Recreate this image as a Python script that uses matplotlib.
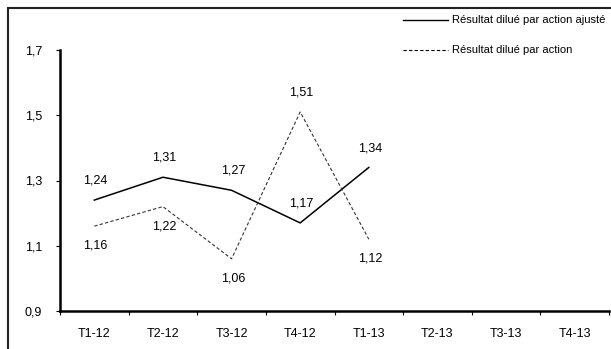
import matplotlib
matplotlib.use("Agg")
import matplotlib.pyplot as plt
from matplotlib.lines import Line2D
from matplotlib.patches import Rectangle
import numpy as np

plt.rcParams['font.family'] = ['Liberation Sans', 'DejaVu Sans']

quarters = ["T1-12", "T2-12", "T3-12", "T4-12", "T1-13", "T2-13", "T3-13", "T4-13"]
adjusted = [1.24, 1.31, 1.27, 1.17, 1.34]
diluted = [1.16, 1.22, 1.06, 1.51, 1.12]
adjusted_label_pos = ["above", "above", "above", "above", "above"]
diluted_label_pos = ["below", "below", "below", "above", "below"]
y_ticks = [0.9, 1.1, 1.3, 1.5, 1.7]
series_names = ["Résultat dilué par action ajusté", "Résultat dilué par action"]

W, H = 611, 349
fig = plt.figure(figsize=(W / 100, H / 100), dpi=100)

# outer chart frame
fig.patches.append(Rectangle((8 / W, 1 - 400 / H), 700 / W, (400 - 8) / H,
                             transform=fig.transFigure, fill=False,
                             edgecolor="#222222", linewidth=1.5))

ax = fig.add_axes([60 / W, 1 - 311 / H, (609 - 60) / W, (311 - 50) / H])
ax.set_xlim(0, len(quarters))
ax.set_ylim(0.9, 1.7)

x_adj = np.arange(len(adjusted)) + 0.5
x_dil = np.arange(len(diluted)) + 0.5
ax.plot(x_adj, adjusted, color="black", linewidth=1.1, solid_joinstyle="miter")
ax.plot(x_dil, diluted, color="#333333", linewidth=0.8, linestyle=(0, (3, 2)))

def fmt(v):
    return f"{v:.2f}".replace(".", ",")

for xs, ys, pos in ((x_adj, adjusted, adjusted_label_pos), (x_dil, diluted, diluted_label_pos)):
    for xv, yv, p in zip(xs, ys, pos):
        dy = 14 if p == "above" else -14
        ax.annotate(fmt(yv), (xv, yv), xytext=(1, dy), textcoords="offset points",
                    ha="center", va="center", fontsize=9, color="black")

# axes styling
for side in ("top", "right"):
    ax.spines[side].set_visible(False)
for side in ("left", "bottom"):
    ax.spines[side].set_linewidth(1.8)
    ax.spines[side].set_color("black")

ax.set_yticks(y_ticks)
ax.set_yticklabels([f"{v:.1f}".replace(".", ",") for v in y_ticks], fontsize=9)
ax.tick_params(axis="y", direction="out", length=3, width=0.8, pad=10)

ax.set_xticks(np.arange(len(quarters) + 1))
ax.set_xticklabels([])
ax.tick_params(axis="x", which="major", direction="out", length=3, width=0.8)
ax.set_xticks(np.arange(len(quarters)) + 0.5, minor=True)
ax.set_xticklabels(quarters, minor=True, fontsize=9)
ax.tick_params(axis="x", which="minor", length=0, pad=12)

# legend drawn in figure pixels
for i, (name, ls, lw) in enumerate(zip(series_names, ["-", (0, (3, 2))], [1.0, 0.8])):
    yy = 1 - (20 + 30 * i) / H
    fig.add_artist(Line2D([403 / W, 448 / W], [yy, yy], transform=fig.transFigure,
                          color="black", linestyle=ls, linewidth=lw))
    fig.text(452 / W, yy, name, fontsize=8, va="center", ha="left")

fig.savefig("out.png", dpi=100)
